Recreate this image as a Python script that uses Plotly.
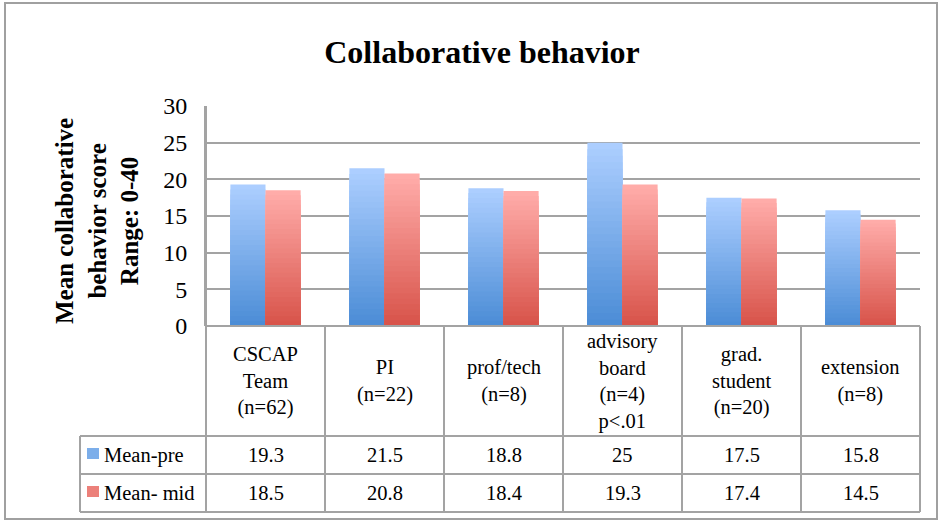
import plotly.graph_objects as go

# ---------------- data ----------------
categories = ["CSCAP<br>Team<br>(n=62)", "PI<br>(n=22)", "prof/tech<br>(n=8)",
              "advisory<br>board<br>(n=4)<br>p&lt;.01", "grad.<br>student<br>(n=20)",
              "extension<br>(n=8)"]
series_names = ["Mean-pre", "Mean- mid"]
mean_pre = [19.3, 21.5, 18.8, 25, 17.5, 15.8]
mean_mid = [18.5, 20.8, 18.4, 19.3, 17.4, 14.5]
y_ticks = [0, 5, 10, 15, 20, 25, 30]

# ---------------- layout geometry (pixels) ----------------
W, H = 942, 522
L, R, T, B = 206, 920, 106, 326  # plot area in pixels
FONT = "Liberation Serif, Times New Roman, Times, serif"
GRID = "#a3a3a3"


def px(x):
    return (x - L) / (R - L)


def py(y):
    return (B - y) / (B - T)


def lerp(c1, c2, t):
    return "rgb(%d,%d,%d)" % tuple(round(a + (b - a) * t) for a, b in zip(c1, c2))


blue_top, blue_bot = (172, 206, 255), (76, 141, 214)
red_top, red_bot = (255, 172, 169), (216, 84, 75)

fig = go.Figure()
N = 28
for name, vals, ctop, cbot, grp in [(series_names[0], mean_pre, blue_top, blue_bot, "pre"),
                                     (series_names[1], mean_mid, red_top, red_bot, "mid")]:
    for k in range(N):
        frac = 1 - k / N
        fig.add_trace(go.Bar(
            x=categories, y=[v * frac for v in vals], offsetgroup=grp,
            marker=dict(color=lerp(ctop, cbot, k / (N - 1)), line=dict(width=0)),
            name=name, showlegend=False,
            hoverinfo="skip" if k else "y+name",
        ))

shapes = []
line = dict(color=GRID, width=2)
# outer chart border
shapes.append(dict(type="rect", xref="paper", yref="paper", x0=px(5), x1=px(937),
                   y0=py(3), y1=py(519), line=dict(color="#a0a0a0", width=2), layer="below"))
# table horizontal lines
shapes.append(dict(type="line", xref="paper", yref="paper", x0=px(L), x1=px(R), y0=py(326), y1=py(326), line=line))
for yy in [436, 474, 512]:
    shapes.append(dict(type="line", xref="paper", yref="paper", x0=px(80), x1=px(R), y0=py(yy), y1=py(yy), line=line))
# table vertical lines
cell_edges = [L + i * (R - L) / 6 for i in range(7)]
for xx in cell_edges:
    shapes.append(dict(type="line", xref="paper", yref="paper", x0=px(xx), x1=px(xx),
                       y0=py(T if xx == L else 326), y1=py(512), line=line))
shapes.append(dict(type="line", xref="paper", yref="paper", x0=px(80), x1=px(80), y0=py(436), y1=py(512), line=line))
# legend swatches
for yy, c1, c2 in [(448, blue_top, blue_bot), (486, red_top, red_bot)]:
    shapes.append(dict(type="rect", xref="paper", yref="paper", x0=px(87), x1=px(99),
                       y0=py(yy), y1=py(yy + 11), line=dict(width=0),
                       fillcolor=lerp(c1, c2, 0.5)))

ann = []
tf = dict(family=FONT, size=20.5, color="black")
for i, cat in enumerate(categories):
    ann.append(dict(x=cat, xref="x", y=py(381), yref="paper", text=cat, showarrow=False,
                    font=tf, yanchor="middle", xanchor="center"))
    ann.append(dict(x=cat, xref="x", y=py(455), yref="paper", text=f"{mean_pre[i]:g}", showarrow=False,
                    font=tf, yanchor="middle"))
    ann.append(dict(x=cat, xref="x", y=py(493), yref="paper", text=f"{mean_mid[i]:g}", showarrow=False,
                    font=tf, yanchor="middle"))
for nm, yy in zip(series_names, [455, 493]):
    ann.append(dict(x=px(102), xref="paper", y=py(yy), yref="paper", text=nm, showarrow=False,
                    font=tf, xanchor="left", yanchor="middle"))
# y-axis title
ann.append(dict(x=px(97), xref="paper", y=py(221), yref="paper",
                text="<b>Mean collaborative<br>behavior score<br>Range: 0-40</b>",
                textangle=-90, showarrow=False, font=dict(family=FONT, size=25, color="black"),
                xanchor="center", yanchor="middle"))

fig.update_layout(
    width=W, height=H,
    margin=dict(l=L, r=W - R, t=T, b=H - B, pad=0),
    paper_bgcolor="white", plot_bgcolor="white",
    barmode="group", bargap=0.41, bargroupgap=0,
    title=dict(text="<b>Collaborative behavior</b>", x=482 / W, xref="container", xanchor="center",
               y=1 - 52 / H, yref="container", yanchor="middle",
               font=dict(family=FONT, size=32, color="black")),
    xaxis=dict(showticklabels=False, showgrid=False, zeroline=False, showline=False,
               range=[-0.5, 5.5], fixedrange=True),
    yaxis=dict(range=[0, 30], tickvals=y_ticks, showgrid=True, gridcolor=GRID, gridwidth=2,
               zeroline=False, showline=True, linecolor=GRID, linewidth=2,
               ticks="", ticklabelstandoff=12,
               tickfont=dict(family=FONT, size=24, color="black"), fixedrange=True),
    shapes=shapes, annotations=ann,
    showlegend=False,
)

fig.write_html("out.html", config={"displayModeBar": False},
               post_script="document.body.style.margin='0';")
